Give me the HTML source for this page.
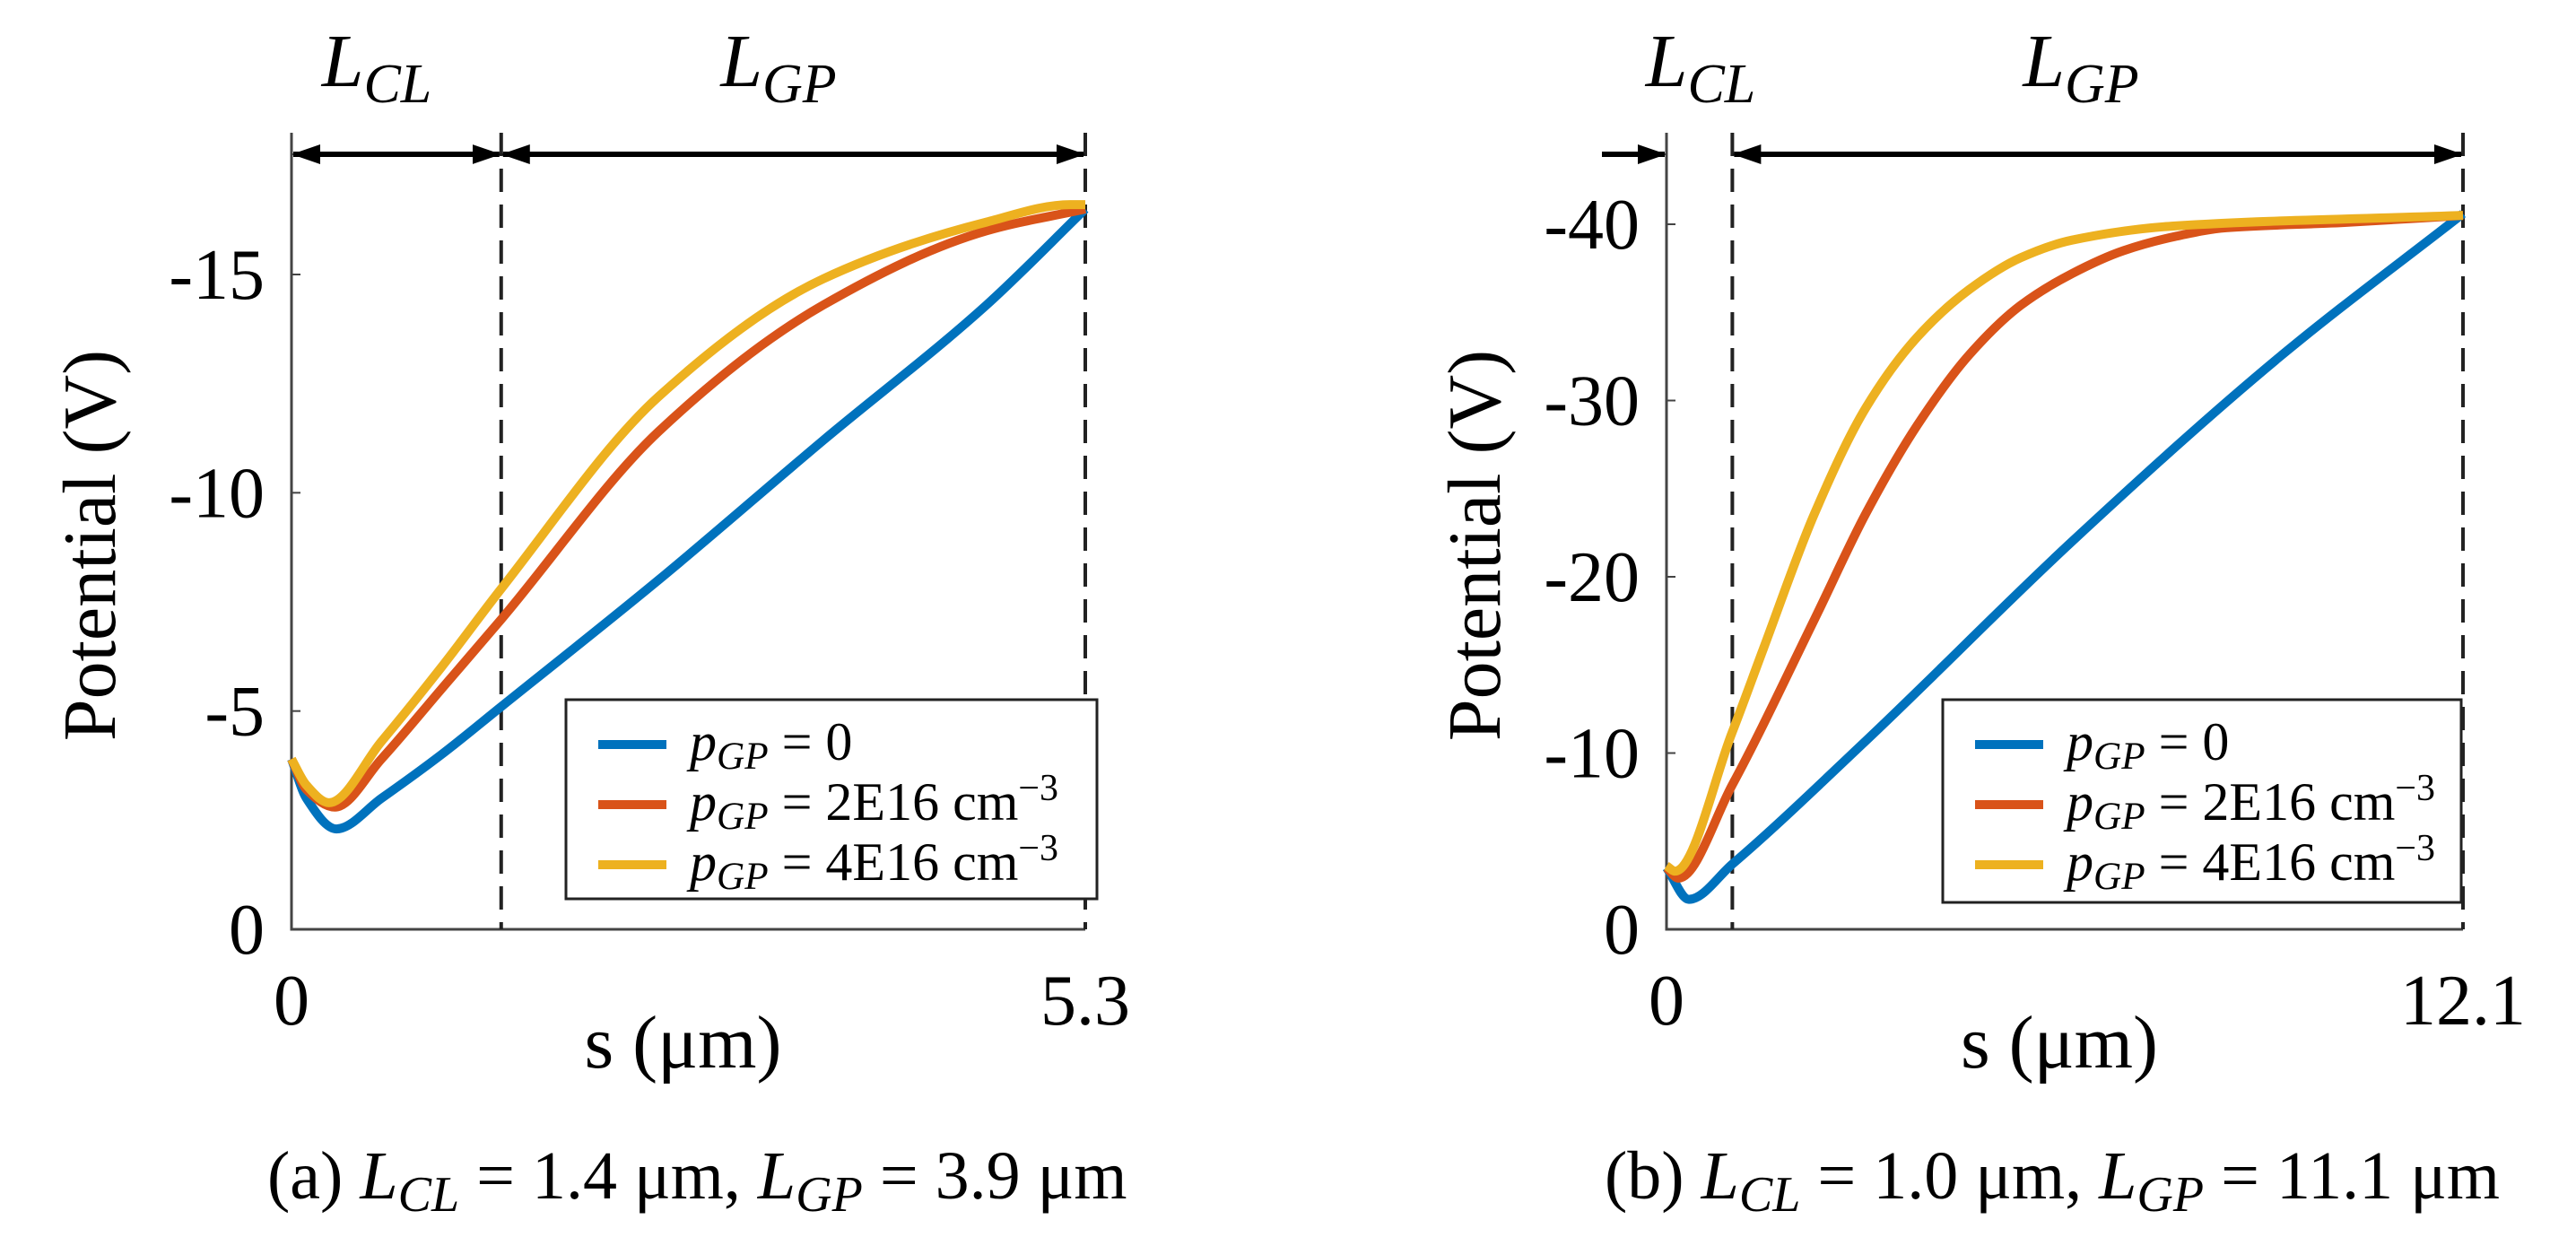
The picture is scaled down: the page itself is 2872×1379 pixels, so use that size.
<!DOCTYPE html>
<html><head><meta charset="utf-8"><style>
body{margin:0;background:#fff}
svg{display:block}
text{font-family:"Liberation Serif",serif;fill:#000}
</style></head><body>
<svg id="fig" width="2872" height="1379" viewBox="0 0 2872 1379">
<defs>
<marker id="ah" markerWidth="32" markerHeight="22" refX="30" refY="11" orient="auto-start-reverse" markerUnits="userSpaceOnUse" viewBox="0 0 32 22"><path d="M0,0 L32,11 L0,22 Z" fill="#000"/></marker>
</defs>
</svg>
<script>
// Panel (a) data
const sA = [0, 0.1, 0.3, 0.6, 1.0, 1.4, 2.45, 3.55, 4.64, 5.3];
const blueA = [3.9, 3.0, 2.3, 3.0, 4.0, 5.1, 8.0, 11.2, 14.3, 16.5];
const sRA = [0, 0.1, 0.29, 0.6, 1.0, 1.4, 2.45, 3.55, 4.64, 5.3];
const redA = [3.9, 3.2, 2.8, 3.9, 5.5, 7.1, 11.4, 14.3, 16.0, 16.5];
const sYA = [0, 0.1, 0.25, 0.6, 1.0, 1.4, 2.45, 3.55, 4.64, 5.2, 5.3];
const yelA = [3.9, 3.3, 2.9, 4.3, 6.0, 7.8, 12.2, 14.9, 16.2, 16.6, 16.6];
const yTicksA = [0, 5, 10, 15];
const yTickLabelsA = ["0", "-5", "-10", "-15"];
// Panel (b) data
const sBb = [0, 0.34, 1.0, 3.03, 6.16, 9.29, 12.1];
const blueB = [3.5, 1.7, 3.7, 10.7, 22.0, 32.4, 40.6];
const sRB = [0, 0.18, 1.0, 2.25, 3.03, 3.81, 4.6, 5.38, 6.16, 6.94, 7.72, 8.5, 10.3, 12.1];
const redB = [3.5, 2.9, 8.2, 17.6, 23.6, 28.6, 32.6, 35.4, 37.2, 38.5, 39.3, 39.8, 40.1, 40.5];
const sYB = [0, 0.13, 1.0, 1.47, 2.25, 3.03, 3.81, 4.6, 5.38, 6.16, 7.7, 12.1];
const yelB = [3.6, 3.3, 11.2, 15.9, 23.6, 29.6, 33.6, 36.3, 38.1, 39.1, 39.9, 40.5];
const yTicksB = [0, 10, 20, 30, 40];
const yTickLabelsB = ["0", "-10", "-20", "-30", "-40"];
const legendLabels = ["0", "2E16 cm", "4E16 cm"];

const svg = document.getElementById('fig');
const NS = 'http://www.w3.org/2000/svg';
function mk(tag, attrs, parent){const e=document.createElementNS(NS,tag);for(const k in attrs)e.setAttribute(k,attrs[k]);(parent||svg).appendChild(e);return e;}
const colors = ['#0072BD','#D95319','#EDB120'];

function monoPath(pts){
  const n=pts.length, dx=[], m=[], t=[];
  for(let i=0;i<n-1;i++){dx[i]=pts[i+1][0]-pts[i][0]; m[i]=(pts[i+1][1]-pts[i][1])/dx[i];}
  t[0]=m[0]; t[n-1]=m[n-2];
  for(let i=1;i<n-1;i++){
    if(m[i-1]*m[i]<=0) t[i]=0;
    else { const w1=2*dx[i]+dx[i-1], w2=dx[i]+2*dx[i-1]; t[i]=(w1+w2)/(w1/m[i-1]+w2/m[i]); }
  }
  let d='M'+pts[0][0]+','+pts[0][1];
  for(let i=0;i<n-1;i++){
    const h=dx[i]/3;
    d+=` C${pts[i][0]+h},${pts[i][1]+t[i]*h} ${pts[i+1][0]-h},${pts[i+1][1]-t[i+1]*h} ${pts[i+1][0]},${pts[i+1][1]}`;
  }
  return d;
}

function panel(cfg){
  const g = mk('g',{});
  
  
  const X = s => cfg.x0 + (cfg.x1-cfg.x0)*s/cfg.smax;
  const Y = v => cfg.y0 - (cfg.y0-cfg.yTop)*v/cfg.vTop;
  const ax = mk('path',{d:`M${X(0)},${cfg.axTop} L${X(0)},${cfg.y0} L${X(cfg.smax)},${cfg.y0}`,stroke:'#444',fill:'none','stroke-width':3},g);
  
  
  cfg.yTicks.forEach((t,i)=>{
    mk('line',{x1:X(0),x2:X(0)+10,y1:Y(t),y2:Y(t),stroke:'#444','stroke-width':2},g);
    const tx = mk('text',{x:X(0)-30,y:Y(t)+27,'font-size':80,'text-anchor':'end'},g);
    tx.textContent = cfg.yLabels[i];
    
    
  });
  [[0,'0'],[cfg.smax,String(cfg.smax)]].forEach(([s,l])=>{
    const tx = mk('text',{x:X(s),y:1142,'font-size':80,'text-anchor':'middle'},g);
    tx.textContent = l;
    
    
  });
  [cfg.split, cfg.smax].forEach(s=>{
    const d = mk('line',{x1:X(s),x2:X(s),y1:cfg.axTop,y2:cfg.y0,stroke:'#222','stroke-width':4,'stroke-dasharray':'26,14'},g);
    
    
  });
  const ay = 172;
  if(cfg.clArrowLeft){
    const a=mk('line',{x1:X(0)-72,x2:X(0)-2,y1:ay,y2:ay,stroke:'#000','stroke-width':6,'marker-end':'url(#ah)'},g);
    
    
  } else {
    const a=mk('line',{x1:X(0)+2,x2:X(cfg.split)-2,y1:ay,y2:ay,stroke:'#000','stroke-width':6,'marker-start':'url(#ah)','marker-end':'url(#ah)'},g);
    
    
  }
  const a2=mk('line',{x1:X(cfg.split)+2,x2:X(cfg.smax)-2,y1:ay,y2:ay,stroke:'#000','stroke-width':6,'marker-start':'url(#ah)','marker-end':'url(#ah)'},g);
  
  
  const l1 = mk('text',{x:cfg.clLabelX,y:96,'font-size':84,'font-style':'italic','text-anchor':'middle'},g);
  l1.innerHTML = 'L<tspan font-size="62" dy="18">CL</tspan>';
  
  
  const l2 = mk('text',{x:cfg.gpLabelX,y:96,'font-size':84,'font-style':'italic','text-anchor':'middle'},g);
  l2.innerHTML = 'L<tspan font-size="62" dy="18">GP</tspan>';
  
  
  cfg.series.forEach(([xs,vs],i)=>{
    const pts = xs.map((s,j)=>[X(s),Y(vs[j])]);
    const p = mk('path',{d:monoPath(pts),stroke:colors[i],'stroke-width':10,fill:'none','stroke-linejoin':'round'},g);
    
    
  });
  const L = cfg.leg;
  const lg = mk('g',{},g);
  
  
  mk('rect',{x:L.x,y:L.y,width:L.w,height:L.h,fill:'#fff',stroke:'#222','stroke-width':3},lg);
  legendLabels.forEach((t,i)=>{
    const ry = L.y + 50 + i*L.dy;
    const ln = mk('line',{x1:L.x+36,x2:L.x+112,y1:ry,y2:ry,stroke:colors[i],'stroke-width':10},lg);
    
    
    const tx = mk('text',{x:L.x+138,y:ry+17,'font-size':L.fs},lg);
    tx.innerHTML = '<tspan font-style="italic">p</tspan><tspan font-style="italic" font-size="'+(L.fs*0.72)+'" dy="10">GP</tspan><tspan dy="-10"> = '+t+'</tspan>'+(i>0?'<tspan font-size="'+(L.fs*0.7)+'" dy="-22">−3</tspan>':'');
    
    
  });
  const yl = mk('text',{x:0,y:0,'font-size':84,'text-anchor':'middle',transform:`translate(${cfg.yLabX},608) rotate(-90)`},g);
  yl.textContent='Potential (V)';
  
  
  const xl = mk('text',{x:(X(0)+X(cfg.smax))/2-6,y:1190,'font-size':84,'text-anchor':'middle'},g);
  xl.textContent='s (μm)';
  
  
  const cap = mk('text',{x:cfg.capX,y:1336,'font-size':76},g);
  cap.innerHTML = cfg.cap;
  
  
}

const capSub = (a,b)=>'<tspan font-style="italic">L</tspan><tspan font-style="italic" font-size="56" dy="14">'+a+'</tspan><tspan dy="-14">'+b+'</tspan>';
panel({name:'panel-a',x0:325,x1:1210,smax:5.3,y0:1036,yTop:306,vTop:15,axTop:148,split:1.4,
  yTicks:yTicksA,yLabels:yTickLabelsA,clLabelX:420,gpLabelX:868,
  series:[[sA,blueA],[sRA,redA],[sYA,yelA]],
  leg:{x:631,y:780,w:592,h:222,dy:67,fs:60},yLabX:128,capX:298,
  cap:'(a) '+capSub('CL',' = 1.4 μm, ')+capSub('GP',' = 3.9 μm')});
panel({name:'panel-b',x0:1858,x1:2746,smax:12.1,y0:1036,yTop:250,vTop:40,axTop:148,split:1.0,clArrowLeft:true,
  yTicks:yTicksB,yLabels:yTickLabelsB,clLabelX:1896,gpLabelX:2320,
  series:[[sBb,blueB],[sRB,redB],[sYB,yelB]],
  leg:{x:2166,y:780,w:578,h:226,dy:67,fs:60},yLabX:1672,capX:1789,
  cap:'(b) '+capSub('CL',' = 1.0 μm, ')+capSub('GP',' = 11.1 μm')});
</script>
</body></html>
